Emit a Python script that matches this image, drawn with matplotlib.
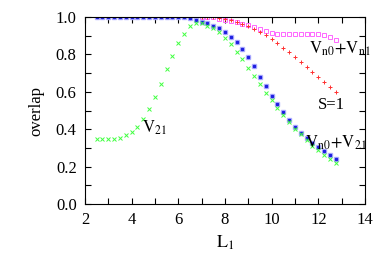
import matplotlib
matplotlib.use("Agg")
import matplotlib.pyplot as plt
from matplotlib.ticker import MultipleLocator

plt.rcParams['font.family'] = ['Liberation Serif', 'DejaVu Serif']
plt.rcParams['mathtext.fontset'] = 'stix'

L1 = [2.5 + 0.25 * i for i in range(42)]

# V_n0 + V_n1
v_n0_n1 = [1.0] * 21 + [0.99, 0.985, 0.978, 0.972, 0.964, 0.955, 0.945, 0.937,
                        0.926, 0.917, 0.911, 0.908, 0.907, 0.907, 0.908, 0.910,
                        0.912, 0.912, 0.905, 0.895, 0.877]
# S=1
s1 = [1.0] * 21 + [0.995, 0.99, 0.985, 0.975, 0.965, 0.953, 0.937, 0.921, 0.905,
                   0.882, 0.859, 0.835, 0.811, 0.785, 0.758, 0.731, 0.704, 0.678,
                   0.651, 0.627, 0.60]
# V_n0 + V_21
v_n0_21 = [1.0] * 15 + [0.998, 0.993, 0.985, 0.975, 0.966, 0.953, 0.94, 0.918,
                        0.895, 0.865, 0.83, 0.785, 0.736, 0.68, 0.631, 0.579,
                        0.533, 0.49, 0.449, 0.413, 0.38, 0.355, 0.328, 0.306,
                        0.283, 0.262, 0.241]
# V_21
v21 = [0.348, 0.348, 0.348, 0.35, 0.355, 0.367, 0.383, 0.413, 0.455, 0.506,
       0.57, 0.643, 0.72, 0.793, 0.86, 0.91, 0.95, 0.968, 0.97, 0.952, 0.94,
       0.918, 0.887, 0.854, 0.814, 0.774, 0.73, 0.686, 0.64, 0.596, 0.556,
       0.513, 0.476, 0.437, 0.403, 0.372, 0.342, 0.311, 0.287, 0.264, 0.241,
       0.22]

fig = plt.figure(figsize=(3.82, 2.67), dpi=100)
ax = fig.add_axes([0.2225, 0.236, 0.733, 0.7])

ax.plot(L1, v_n0_n1, 's', ms=2.8, mfc='none', mec='#ff66ff', mew=0.7)
ax.plot(L1, s1, '+', ms=3, color='#ff3030', mew=0.7)
ax.plot(L1, v_n0_21, 's', ms=3.2, mfc='#b0b0ff', mec='#b0b0ff')
ax.plot(L1, v_n0_21, 's', ms=1.4, color='#2020e0')
ax.plot(L1, v21, 'x', ms=2.5, color='#40ff40', mew=0.7)

ax.text(4.45, 0.41, r'$\mathrm{V}_{21}$', fontsize=12, va='center')
ax.text(11.6, 0.83, r'$\mathrm{V}_{\mathrm{n0}}\!+\!\mathrm{V}_{\mathrm{n1}}$', fontsize=12, va='center')
ax.text(12.0, 0.53, 'S=1', fontsize=12, va='center')
ax.text(11.45, 0.33, r'$\mathrm{V}_{\mathrm{n0}}\!+\!\mathrm{V}_{21}$', fontsize=12, va='center')

ax.set_xlim(2, 14)
ax.set_ylim(0, 1)
ax.xaxis.set_major_locator(MultipleLocator(2))
ax.xaxis.set_minor_locator(MultipleLocator(1))
ax.yaxis.set_major_locator(MultipleLocator(0.2))
ax.yaxis.set_minor_locator(MultipleLocator(0.1))
ax.yaxis.set_major_formatter(plt.FormatStrFormatter('%.1f'))
ax.tick_params(which='both', direction='in', top=True, right=True, labelsize=12, width=0.8)
ax.tick_params(which='major', length=4, pad=6)
ax.tick_params(which='minor', length=4)
for s in ax.spines.values():
    s.set_linewidth(0.8)

ax.set_xlabel(r'$\mathrm{L}_1$', fontsize=13, labelpad=4)
ax.set_ylabel('overlap', fontsize=12, labelpad=8)

fig.savefig("out.png", dpi=100)
